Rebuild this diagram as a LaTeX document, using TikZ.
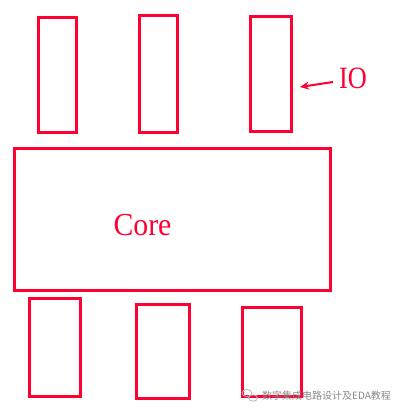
\documentclass[tikz,border=0pt]{standalone}
\usepackage{fontspec}
\setmainfont{Liberation Serif}
\newfontfamily\cjkfont{Noto Sans CJK SC}
\usetikzlibrary{arrows.meta}
\definecolor{pinred}{HTML}{FF0033}
\definecolor{wmgray}{HTML}{8A8A8A}
\tikzset{
  pad/.style={draw=pinred, line width=3pt},
  lbl/.style={text=pinred, inner sep=0pt},
  ptr/.style={draw=pinred, line width=2pt, -{Stealth[length=9pt,width=8pt]}}
}
\begin{document}
\begin{tikzpicture}[x=1pt,y=-1pt]
\useasboundingbox[fill=white] (0,0) rectangle (404,416);
% top IO pads
\draw[pad] (38,17) rectangle (76,132);
\draw[pad] (139,15) rectangle (177,132);
\draw[pad] (250,16) rectangle (291,131);
% core
\draw[pad] (14.5,148) rectangle (330.5,290.5);
% bottom IO pads
\draw[pad] (29.5,298) rectangle (80.5,396);
\draw[pad] (136,304) rectangle (189.5,398);
\draw[pad] (242.5,307) rectangle (301.5,396);
% labels
\node[lbl, font=\fontsize{32}{32}\selectfont, xscale=0.93] (core) at (142.5,225) {Core};
\node[lbl, font=\fontsize{31}{31}\selectfont, xscale=0.85] (io) at (353,78) {IO};
\coordinate (ptrtail) at (333,82);
\coordinate (ptrtip) at (300,87);
\draw[ptr] (ptrtail) -- (ptrtip);
% watermark
\draw[wmgray!60, line width=0.8pt] (247,393) ellipse (5pt and 3.5pt);
\draw[wmgray!60, line width=0.8pt] (253,398) ellipse (4.5pt and 3.2pt);
\node[inner sep=0pt, text=wmgray, anchor=west, font=\cjkfont\fontsize{10}{10}\selectfont] (wm) at (262,396) {数字集成电路设计及EDA教程};
\end{tikzpicture}
\end{document}
